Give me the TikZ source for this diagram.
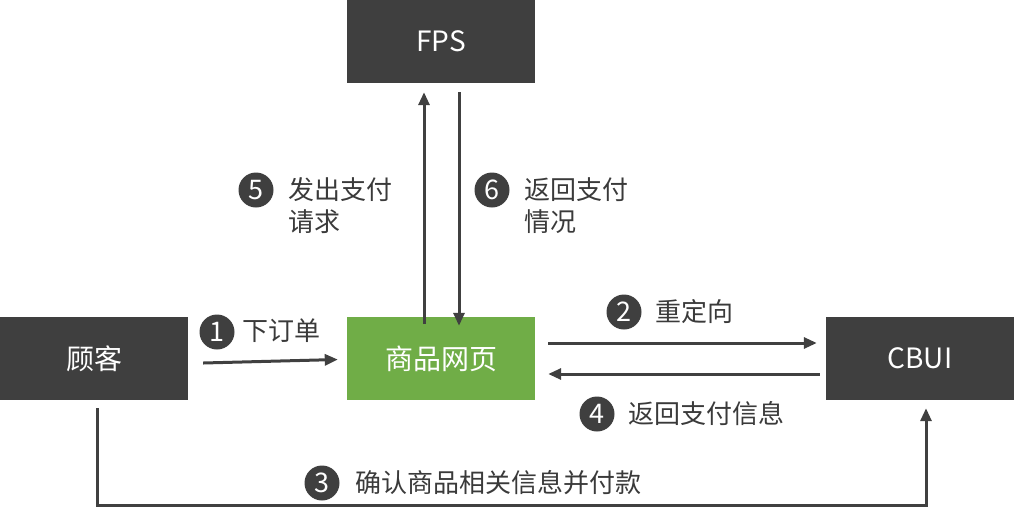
\documentclass[tikz,border=0pt]{standalone}
\usepackage{fontspec}
\setmainfont{Noto Sans CJK SC}
\usetikzlibrary{arrows.meta,calc}
\definecolor{boxgray}{HTML}{3F3F3F}
\definecolor{linegray}{HTML}{404040}
\definecolor{webgreen}{HTML}{70AD47}
\definecolor{txtgray}{HTML}{3A3A3A}
\tikzset{
  box/.style={rectangle, fill=boxgray, text=white, minimum width=188pt, minimum height=83pt, inner sep=0pt, font=\fontsize{28}{32}\selectfont},
  greenbox/.style={box, fill=webgreen},
  arr/.style={draw=linegray, line width=3pt, -{Triangle[length=13pt,width=11pt]}},
  num/.style={circle, fill=boxgray, text=white, minimum size=35pt, inner sep=0pt, font=\fontsize{27}{27}\selectfont},
  lbl/.style={text=txtgray, inner sep=0pt, anchor=west, align=left, font=\fontsize{26}{32}\selectfont}
}
\begin{document}
\begin{tikzpicture}[x=1pt,y=-1pt]
\useasboundingbox (0,0) rectangle (1016,515);
\node[box] (fps) at (441,41.5) {FPS};
\node[box] (guke) at (94,358.5) {顾客};
\node[greenbox] (web) at (441,358.5) {商品网页};
\node[box] (cbui) at (920,358.5) {CBUI};

% 1
\draw[arr] ([xshift=15pt,yshift=-4.5pt]guke.east) -- ([xshift=-9pt,yshift=-1pt]web.west);
\node[num] (n1) at (217,332) {1};
\node[lbl] (t1) at (242,331) {下订单};
% 2
\draw[arr] ([xshift=13pt,yshift=15.5pt]web.east) -- ([xshift=-9pt,yshift=15.5pt]cbui.west);
\node[num] (n2) at (624,312) {2};
\node[lbl] (t2) at (655,312) {重定向};
% 4
\draw[arr] ([xshift=-6pt,yshift=-15.5pt]cbui.west) -- ([xshift=13pt,yshift=-15.5pt]web.east);
\node[num] (n4) at (597,414) {4};
\node[lbl] (t4) at (628,414) {返回支付信息};
% 5
\draw[arr] ([xshift=-17pt,yshift=-7pt]web.north) -- ([xshift=-17pt,yshift=-9pt]fps.south);
\node[num] (n5) at (256,190) {5};
\node[lbl] (t5) at (288,206) {发出支付\\请求};
% 6
\draw[arr] ([xshift=18pt,yshift=-9pt]fps.south) -- ([xshift=18pt,yshift=-9pt]web.north);
\node[num] (n6) at (492,190) {6};
\node[lbl] (t6) at (524,206) {返回支付\\情况};
% 3
\draw[arr] ([xshift=3pt,yshift=-8pt]guke.south) -- ++(0,97) -| ([xshift=6pt,yshift=-8pt]cbui.south);
\node[num] (n3) at (322,483) {3};
\node[lbl] (t3) at (355,483) {确认商品相关信息并付款};
\end{tikzpicture}
\end{document}
